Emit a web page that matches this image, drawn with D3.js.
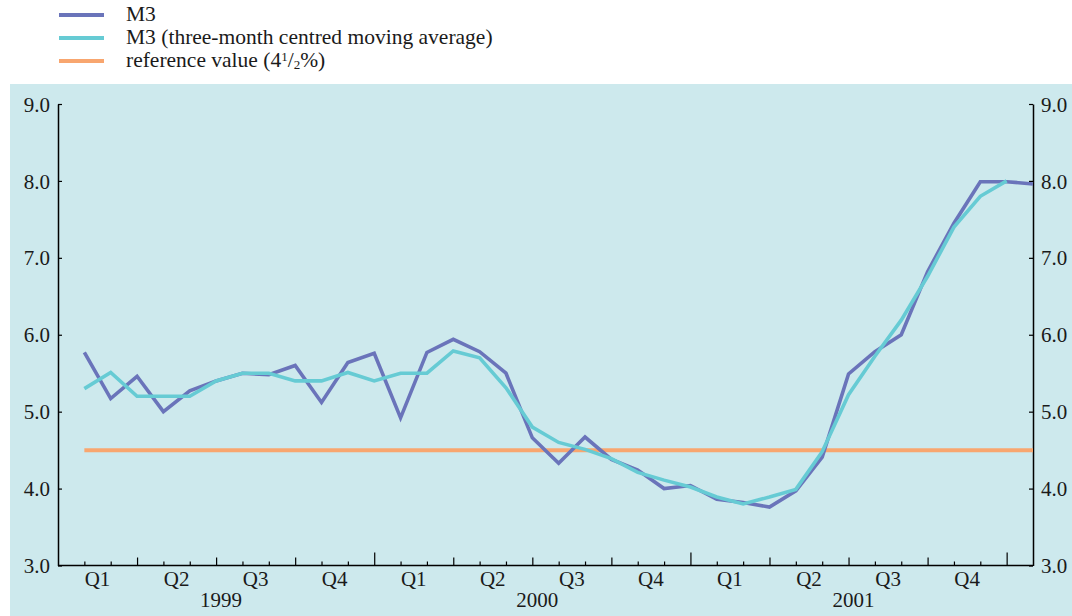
<!DOCTYPE html>
<html>
<head>
<meta charset="utf-8">
<script src="https://cdn.jsdelivr.net/npm/d3@7/dist/d3.min.js"></script>
<style>
  html, body { margin:0; padding:0; background:#fff; }
  svg { display:block; font-family:"Liberation Serif", "Times New Roman", serif; }
  .tick text { font-family:"Liberation Serif", serif; font-size:21px; fill:#1a1a1a; }
  .lbl { font-size:21px; fill:#1a1a1a; }
  .leg { font-size:21.5px; fill:#1a1a1a; }
</style>
</head>
<body>
<svg id="chart" width="1072" height="616"></svg>
<script>
/* M3 annual growth, monthly, Jan 1999 - Jan 2002 (% per annum) */
const m3 = [5.77, 5.17, 5.46, 5.00, 5.27, 5.40, 5.50, 5.48, 5.60, 5.12, 5.64, 5.76,
            4.92, 5.77, 5.94, 5.78, 5.50, 4.66, 4.33, 4.67, 4.38, 4.24, 4.00, 4.04,
            3.86, 3.82, 3.76, 3.97, 4.41, 5.49, 5.78, 6.00, 6.82, 7.45, 7.99, 7.99,
            7.96];

/* three-month centred moving average, Jan 1999 - Dec 2001 */
const m3ma = [5.30, 5.51, 5.20, 5.20, 5.20, 5.40, 5.50, 5.50, 5.40, 5.40, 5.51, 5.40,
              5.50, 5.50, 5.79, 5.70, 5.31, 4.80, 4.60, 4.51, 4.39, 4.21, 4.11, 4.02,
              3.89, 3.80, 3.89, 3.99, 4.48, 5.22, 5.72, 6.19, 6.76, 7.40, 7.80, 8.00];

const refValue = 4.5;
const years = ["1999", "2000", "2001"];
const quarters = ["Q1", "Q2", "Q3", "Q4"];
const yTicks = [3, 4, 5, 6, 7, 8, 9];

const colM3 = "#6a74ba", colMA = "#66cbd4", colRef = "#f8a66f";

const svg = d3.select("#chart");

// fond du graphique
svg.append("rect")
  .attr("x", 10).attr("y", 84).attr("width", 1062).attr("height", 532)
  .attr("fill", "#cde9ed");

// months since Dec 1998 -> pixels
const x = d3.scaleLinear().domain([0, 37]).range([58, 1033]);
const y = d3.scaleLinear().domain([3, 9]).range([565.5, 104]);

/* ---- axes ---- */
const yLeft = d3.axisLeft(y).tickValues(yTicks).tickFormat(d3.format(".1f"))
  .tickSizeInner(-4).tickSizeOuter(0).tickPadding(8);
const yRight = d3.axisRight(y).tickValues(yTicks).tickFormat(d3.format(".1f"))
  .tickSizeInner(-4).tickSizeOuter(0).tickPadding(8);

function styleAxis(g){
  g.attr("font-family", null).attr("font-size", null);
  g.select(".domain").attr("stroke", "#000").attr("stroke-width", 1.5);
  g.selectAll(".tick line").attr("stroke", "#000").attr("stroke-width", 1.2);
  g.selectAll(".tick text").attr("dy", "0.34em");
}

svg.append("g").attr("transform", "translate(" + x(0) + ",0)").call(yLeft).call(styleAxis);
svg.append("g").attr("transform", "translate(" + x(37) + ",0)").call(yRight).call(styleAxis);

// x axis: month / quarter / year ticks pointing up
const monthTicks = d3.range(1, 37).filter(k => k % 3 !== 0);
const quarterTicks = d3.range(3, 37, 3).filter(k => k % 12 !== 0);
const yearTicks = [12, 24, 36];

function xTickAxis(vals, len){
  return d3.axisBottom(x).tickValues(vals).tickFormat("").tickSizeInner(-len).tickSizeOuter(0);
}
[[monthTicks, 4], [quarterTicks, 8], [yearTicks, 13]].forEach(([vals, len]) => {
  svg.append("g").attr("transform", "translate(0," + y(3) + ")")
    .call(xTickAxis(vals, len))
    .call(g => {
      g.select(".domain").remove();
      g.selectAll(".tick line").attr("stroke", "#000").attr("stroke-width", 1.2);
    });
});
svg.append("line")
  .attr("x1", x(0)).attr("x2", x(37)).attr("y1", y(3)).attr("y2", y(3))
  .attr("stroke", "#000").attr("stroke-width", 1.5);

// quarter and year labels
years.forEach((yr, i) => {
  quarters.forEach((q, j) => {
    svg.append("text").attr("class", "lbl")
      .attr("x", x(i * 12 + j * 3 + 1.5)).attr("y", 586)
      .attr("text-anchor", "middle").text(q);
  });
  svg.append("text").attr("class", "lbl")
    .attr("x", x(i * 12 + 6) + 5).attr("y", 607)
    .attr("text-anchor", "middle").text(yr);
});

/* ---- series ---- */
const line = d3.line().x((d, i) => x(i + 1)).y(d => y(d));

svg.append("line")
  .attr("x1", x(1)).attr("x2", x(37)).attr("y1", y(refValue)).attr("y2", y(refValue))
  .attr("stroke", colRef).attr("stroke-width", 4);

svg.append("path").datum(m3)
  .attr("d", line).attr("fill", "none")
  .attr("stroke", colM3).attr("stroke-width", 3.6).attr("stroke-linejoin", "miter");

svg.append("path").datum(m3ma)
  .attr("d", line).attr("fill", "none")
  .attr("stroke", colMA).attr("stroke-width", 3.6).attr("stroke-linejoin", "miter");

/* ---- legend ---- */
const legend = [
  { color: colM3, y: 15 },
  { color: colMA, y: 38 },
  { color: colRef, y: 61 }
];
legend.forEach(d => {
  svg.append("line").attr("x1", 59).attr("x2", 104).attr("y1", d.y).attr("y2", d.y)
    .attr("stroke", d.color).attr("stroke-width", 4);
});
svg.append("text").attr("class", "leg").attr("x", 126).attr("y", 21).text("M3");
svg.append("text").attr("class", "leg").attr("x", 126).attr("y", 44)
  .text("M3 (three-month centred moving average)");
const ref = svg.append("text").attr("class", "leg").attr("x", 126).attr("y", 67);
ref.append("tspan").text("reference value (4");
ref.append("tspan").attr("dy", -6).attr("font-size", 13).text("1");
ref.append("tspan").attr("dy", 6).text("/");
ref.append("tspan").attr("dy", 2).attr("font-size", 13).text("2");
ref.append("tspan").attr("dy", -2).text("%)");
</script>
</body>
</html>
